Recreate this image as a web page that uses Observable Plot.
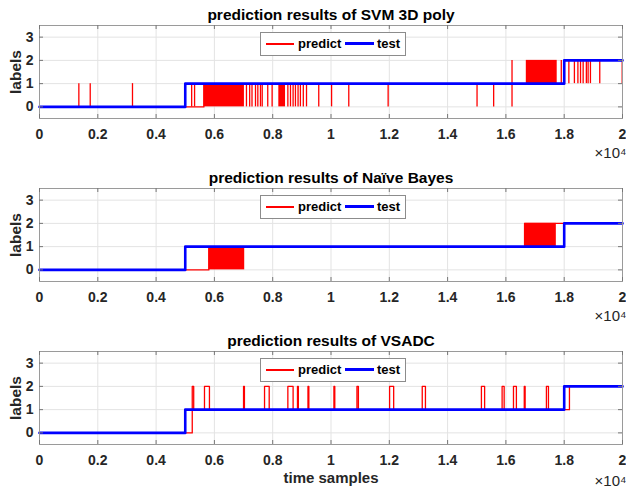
<!DOCTYPE html>
<html>
<head>
<meta charset="utf-8">
<script src="https://cdn.jsdelivr.net/npm/d3@7"></script>
<script src="https://cdn.jsdelivr.net/npm/@observablehq/plot@0.6"></script>
<style>
  html, body { margin: 0; padding: 0; background: #fff; }
  #root { position: relative; width: 626px; height: 488px; overflow: hidden; }
  .panel { position: absolute; left: 0; width: 626px; height: 163px; }
  .panel svg { overflow: visible; }
  .legend { position: absolute; left: 260px; width: 144px; height: 22px; background: #fff;
    border: 1px solid #8c8c8c; font: bold 13px "Liberation Sans", Arial, sans-serif; color: #000; }
  .legend .sw { position: absolute; }
  .legend .tx { position: absolute; top: 3px; line-height: 16px; }
</style>
</head>
<body>
<div id="root"></div>
<script>
// ---- data ----
const xTicks = [0, 2000, 4000, 6000, 8000, 10000, 12000, 14000, 16000, 18000, 20000];
const yTicks = [0, 1, 2, 3];
const titles = ["prediction results of SVM 3D poly", "prediction results of Naïve Bayes", "prediction results of VSADC"];
const legendLabels = ["predict", "test"];
const xLabel = "time samples";
const yLabel = "labels";
const xExponent = "×10⁴";

// test labels (same for all three)
const testT = [0, 5000, 18000, 20000];
const testV = [0, 1, 2, 2];

// SVM 3D poly prediction
const svmPredT = [0, 5640, 18010, 20000];
const svmPredV = [0, 1, 2, 2];
const svmSpikeT  = [1350, 1740, 3190, 5220, 5320, 7100, 7210, 7290, 7410, 7490, 7580, 7640, 7830, 7980, 8520, 8610, 8700, 8780, 8870, 8950, 9050, 9160, 9580, 10020, 10610, 11960, 15010, 15580, 16210, 17900, 18160, 18350, 18470, 18560, 18650, 18760, 18820, 18900, 19220, 19990];
const svmSpikeLo = [0, 0, 0, 0, 0, 0, 0, 0, 0, 0, 0, 0, 0, 0, 0, 0, 0, 0, 0, 0, 0, 0, 0, 0, 0, 0, 0, 0, 0, 1, 1, 1, 1, 1, 1, 1, 1, 1, 1, 1];
const svmSpikeHi = [1, 1, 1, 1, 1, 1, 1, 1, 1, 1, 1, 1, 1, 1, 1, 1, 1, 1, 1, 1, 1, 1, 1, 1, 1, 1, 1, 1, 2, 2, 2, 2, 2, 2, 2, 2, 2, 2, 2, 2];
const svmBurstStart = [5640, 8210, 16700];
const svmBurstEnd   = [7030, 8440, 17760];
const svmBurstLo    = [0, 0, 1];
const svmBurstHi    = [1, 1, 2];

// Naive Bayes prediction
const nbPredT = [0, 5810, 16640, 20000];
const nbPredV = [0, 1, 2, 2];
const nbBurstStart = [5810, 16640];
const nbBurstEnd   = [7040, 17730];
const nbBurstLo    = [0, 1];
const nbBurstHi    = [1, 2];

// VSADC prediction
const vsPredT = [0, 5240, 5290, 5660, 5830, 7000, 7030, 7720, 7880, 8520, 8700, 8850, 8880, 9210, 9240, 10100, 10130, 10890, 10940, 12010, 12150, 13130, 13240, 15160, 15270, 15870, 15940, 16260, 16360, 16630, 16660, 17390, 17460, 18180, 20000];
const vsPredV = [0, 2, 1, 2, 1, 2, 1, 2, 1, 2, 1, 2, 1, 2, 1, 2, 1, 2, 1, 2, 1, 2, 1, 2, 1, 2, 1, 2, 1, 2, 1, 2, 1, 2, 2];

// ---- build ----
const zip2 = (t, v) => t.map((d, i) => ({t: d, v: v[i]}));
const test = zip2(testT, testV);
const panels = [
  {title: titles[0], pred: zip2(svmPredT, svmPredV),
   spikes: svmSpikeT.map((t, i) => ({t, lo: svmSpikeLo[i], hi: svmSpikeHi[i]})),
   bursts: svmBurstStart.map((s, i) => ({s, e: svmBurstEnd[i], lo: svmBurstLo[i], hi: svmBurstHi[i]}))},
  {title: titles[1], pred: zip2(nbPredT, nbPredV), spikes: [],
   bursts: nbBurstStart.map((s, i) => ({s, e: nbBurstEnd[i], lo: nbBurstLo[i], hi: nbBurstHi[i]}))},
  {title: titles[2], pred: zip2(vsPredT, vsPredV), spikes: [], bursts: [], xlabel: true}
];

const RED = "#ff0000", BLUE = "#0000ff";
const W = 626, H = 163, mT = 25, mB = 45, mL = 39, mR = 4;
const plotH = H - mT - mB, plotW = W - mL - mR;
const root = document.getElementById("root");

panels.forEach((p, k) => {
  const div = document.createElement("div");
  div.className = "panel";
  div.style.top = (k * 163) + "px";
  const chart = Plot.plot({
    width: W, height: H,
    marginTop: mT, marginBottom: mB, marginLeft: mL, marginRight: mR,
    style: {fontFamily: '"Liberation Sans", Arial, sans-serif', fontSize: "14px", fontWeight: "bold", color: "#262626", background: "transparent"},
    x: {domain: [0, 20000]},
    y: {domain: [-0.5, 3.5]},
    marks: [
      Plot.ruleX(xTicks, {stroke: "#e3e3e3", strokeWidth: 1}),
      Plot.ruleY(yTicks, {stroke: "#e3e3e3", strokeWidth: 1}),
      Plot.rect(p.bursts, {x1: "s", x2: "e", y1: "lo", y2: "hi", fill: RED}),
      Plot.ruleX(p.spikes, {x: "t", y1: "lo", y2: "hi", stroke: RED, strokeWidth: 1.3}),
      Plot.line(p.pred, {x: "t", y: "v", curve: "step-after", stroke: RED, strokeWidth: 1.3}),
      Plot.line(test, {x: "t", y: "v", curve: "step-after", stroke: BLUE, strokeWidth: 2.6}),
      Plot.frame({stroke: "#9a9a9a", strokeWidth: 1}),
      Plot.ruleX(xTicks, {insetTop: plotH - 4, stroke: "#777"}),
      Plot.ruleX(xTicks, {insetBottom: plotH - 4, stroke: "#777"}),
      Plot.ruleY(yTicks, {insetRight: plotW - 4, stroke: "#777"}),
      Plot.ruleY(yTicks, {insetLeft: plotW - 4, stroke: "#777"}),
      Plot.axisX({ticks: xTicks, tickSize: 0, tickPadding: 11, tickFormat: d => String(d / 10000), label: null}),
      Plot.axisY({ticks: yTicks, tickSize: 0, tickPadding: 6, tickFormat: d => String(d), label: null}),
      Plot.text([p.title], {frameAnchor: "top", dy: -10, lineAnchor: "middle", fontSize: 15.5, fontWeight: "bold", fill: "#000"}),
      Plot.text([yLabel], {frameAnchor: "left", dx: -23, rotate: -90, textAnchor: "middle", lineAnchor: "middle", fontSize: 15.5, fontWeight: "bold", fill: "#262626"}),
      Plot.text([xExponent], {frameAnchor: "bottom-right", dx: 4, dy: p.xlabel ? 37 : 35, textAnchor: "end", lineAnchor: "middle", fontSize: 15, fontWeight: "normal", fill: "#262626"}),
      ...(p.xlabel ? [Plot.text([xLabel], {frameAnchor: "bottom", dy: 34, lineAnchor: "middle", fontSize: 15, fontWeight: "bold", fill: "#262626"})] : [])
    ]
  });
  div.appendChild(chart);
  const lg = document.createElement("div");
  lg.className = "legend";
  lg.style.top = (mT + 7) + "px";
  lg.innerHTML =
    `<div class="sw" style="left:5px;width:28px;top:10px;height:2px;background:${RED}"></div>` +
    `<div class="tx" style="left:37px">${legendLabels[0]}</div>` +
    `<div class="sw" style="left:84px;width:29px;top:9px;height:3px;background:${BLUE}"></div>` +
    `<div class="tx" style="left:116px">${legendLabels[1]}</div>`;
  div.appendChild(lg);
  root.appendChild(div);
});
</script>
</body>
</html>
